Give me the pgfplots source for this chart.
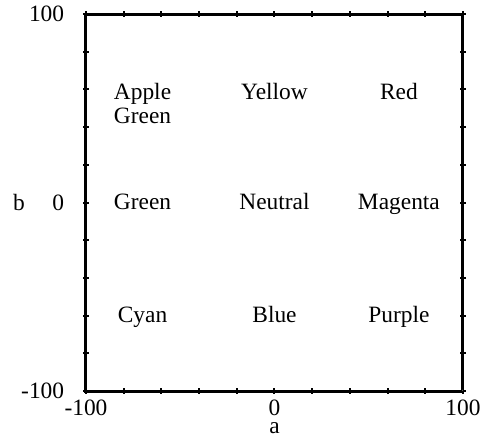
\documentclass[border=0pt]{standalone}
\usepackage{pgfplots}
\pgfplotsset{compat=1.18}
\usepackage{fontspec}
\setmainfont{Liberation Serif}

\pgfplotstableread{
x y label
-70 0 Green
0 58 Yellow
0 0 Neutral
0 -60 Blue
66 58 Red
66 0 Magenta
66 -60 Purple
-70 -60 Cyan
}\colorgrid

\begin{document}
\begin{tikzpicture}[font=\fontsize{11.7}{12}\selectfont]
\path[use as bounding box] (-43pt,-25pt) rectangle (204.5pt,195.5pt);
\begin{axis}[
    at={(0,0)}, anchor=south west,
    scale only axis, width=188.5pt, height=188.5pt,
    xmin=-100, xmax=100, ymin=-100, ymax=100,
    xtick={-100,0,100}, ytick={-100,0,100},
    xticklabels={-100,0,100}, yticklabels={-100,0,100},
    minor xtick={-80,-60,-40,-20,20,40,60,80},
    minor ytick={-80,-60,-40,-20,20,40,60,80},
    tick align=center,
    major tick length=2.8pt, minor tick length=2.8pt,
    every tick/.style={black, line width=1pt},
    axis line style={line width=1.5pt},
    xticklabel style={inner sep=0.5pt, yshift=-2.6pt},
    yticklabel style={anchor=east, xshift=-6pt},
    xlabel={a}, ylabel={b},
    xlabel style={at={(axis description cs:0.5,0)}, anchor=base, inner sep=0pt, yshift=-21pt},
    ylabel style={at={(axis description cs:0,0.5)}, rotate=-90, anchor=center, xshift=-33.5pt},
]
\addplot[draw=none, nodes near coords, point meta=explicit symbolic,
    every node near coord/.style={anchor=base, yshift=-3.3pt, black}]
    table[x=x, y=y, meta=label] {\colorgrid};
\addplot[draw=none, nodes near coords={Apple\\Green},
    every node near coord/.style={anchor=base, align=center, yshift=-15.3pt, black}]
    coordinates {(-70,58)};
\draw[black!12, line width=1pt] (axis cs:100,-100) -- ++(16pt,0);
\end{axis}
\end{tikzpicture}
\end{document}
